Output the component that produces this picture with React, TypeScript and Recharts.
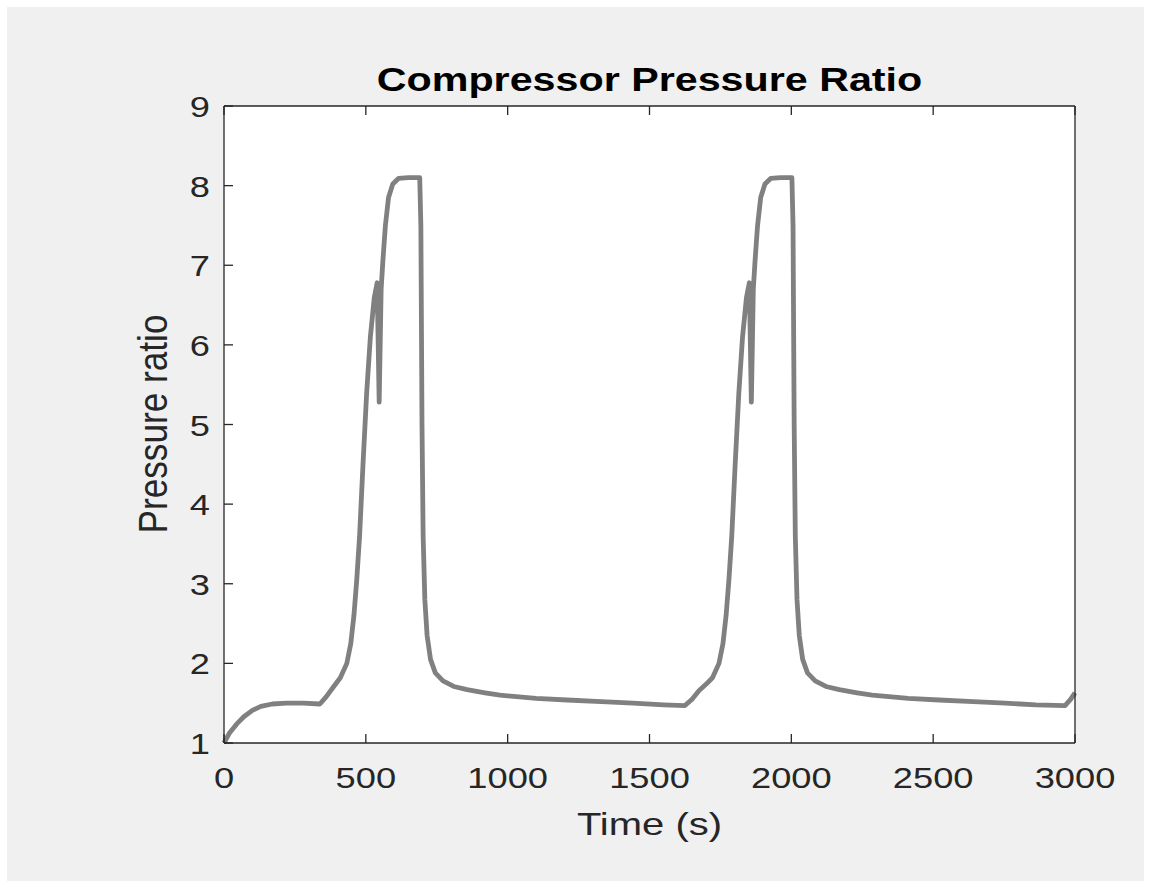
import { LineChart, Line, XAxis, YAxis, CartesianGrid } from 'recharts'

// time (s) and compressor pressure ratio
const times = [
  0, 20, 45, 70, 100, 130, 170, 220, 280, 338,
  360, 385, 410, 433, 447, 458, 468, 478, 490, 503,
  516, 530, 540, 547, 554, 560, 569, 580, 595, 615,
  650, 690, 694, 698, 702, 708, 716, 728, 745, 772,
  810, 857, 920, 973, 1100, 1209, 1330, 1442, 1550, 1625,
  1650, 1675, 1700, 1722, 1745, 1759, 1770, 1780, 1790, 1802,
  1815, 1828, 1842, 1852, 1859, 1866, 1872, 1881, 1892, 1907,
  1927, 1962, 2002, 2006, 2010, 2014, 2020, 2028, 2040, 2057,
  2084, 2122, 2169, 2232, 2285, 2412, 2521, 2642, 2754, 2862,
  2965, 2985, 3000,
]
const ratios = [
  1.0, 1.13, 1.24, 1.33, 1.41, 1.46, 1.49, 1.5, 1.5, 1.49,
  1.58, 1.7, 1.82, 2.0, 2.25, 2.6, 3.05, 3.6, 4.5, 5.4,
  6.1, 6.6, 6.78, 5.28, 6.7, 7.05, 7.5, 7.85, 8.02, 8.09,
  8.1, 8.1, 7.5, 5.0, 3.6, 2.8, 2.35, 2.05, 1.88, 1.78,
  1.71, 1.67, 1.63, 1.6, 1.56, 1.54, 1.52, 1.5, 1.48, 1.47,
  1.55, 1.66, 1.74, 1.82, 2.0, 2.25, 2.6, 3.05, 3.6, 4.5,
  5.4, 6.1, 6.6, 6.78, 5.28, 6.7, 7.05, 7.5, 7.85, 8.02,
  8.09, 8.1, 8.1, 7.5, 5.0, 3.6, 2.8, 2.35, 2.05, 1.88,
  1.78, 1.71, 1.67, 1.63, 1.6, 1.56, 1.54, 1.52, 1.5, 1.48,
  1.47, 1.55, 1.63,
]
const xTicks = [0, 500, 1000, 1500, 2000, 2500, 3000]
const yTicks = [1, 2, 3, 4, 5, 6, 7, 8, 9]

const title = 'Compressor Pressure Ratio'
const xLabel = 'Time (s)'
const yLabel = 'Pressure ratio'

const data = times.map((t, i) => ({ t, v: ratios[i] }))

const FONT = '"Liberation Sans", Arial, Helvetica, sans-serif'
const AX = '#262626'
const TICK = 9

function BottomTick({ x, y, payload }: any) {
  return (
    <g>
      <line x1={x} y1={y} x2={x} y2={y - TICK} stroke={AX} strokeWidth={1.3} />
      <text
        transform={`translate(${x},${y + 45}) scale(1.25,1)`}
        textAnchor="middle"
        fontFamily={FONT}
        fontSize={29}
        fill={AX}
      >
        {payload.value}
      </text>
    </g>
  )
}

function LeftTick({ x, y, payload }: any) {
  return (
    <g>
      <line x1={x} y1={y} x2={x + TICK} y2={y} stroke={AX} strokeWidth={1.3} />
      <text
        transform={`translate(${x - 14},${y + 11}) scale(1.25,1)`}
        textAnchor="end"
        fontFamily={FONT}
        fontSize={29}
        fill={AX}
      >
        {payload.value}
      </text>
    </g>
  )
}

// top / right: tick marks only, like a boxed matlab axes
function TopTick({ x, y }: any) {
  return <line x1={x} y1={y} x2={x} y2={y + TICK} stroke={AX} strokeWidth={1.3} />
}

function RightTick({ x, y }: any) {
  return <line x1={x} y1={y} x2={x - TICK} y2={y} stroke={AX} strokeWidth={1.3} />
}

export default function App() {
  return (
    <div style={{ position: 'absolute', left: 0, top: 0, width: 1151, height: 888, background: '#ffffff' }}>
      <div style={{ position: 'absolute', left: 7, top: 7, width: 1137, height: 874, background: '#f0f0f0' }} />
      <div style={{ position: 'absolute', left: 0, top: 0 }}>
        <LineChart
          width={1151}
          height={888}
          data={data}
          margin={{ top: 96, right: 66, bottom: 85, left: 164 }}
        >
          <CartesianGrid horizontal={false} vertical={false} fill="#ffffff" stroke="none" xAxisId="bottom" yAxisId="left" />
          <XAxis
            xAxisId="bottom"
            dataKey="t"
            type="number"
            domain={[0, 3000]}
            ticks={xTicks}
            interval={0}
            height={60}
            tickSize={0}
            tickMargin={0}
            tickLine={false}
            axisLine={{ stroke: AX, strokeWidth: 1.3 }}
            tick={(p: any) => <BottomTick {...p} />}
          />
          <XAxis
            xAxisId="top"
            orientation="top"
            dataKey="t"
            type="number"
            domain={[0, 3000]}
            ticks={xTicks}
            interval={0}
            height={10}
            tickSize={0}
            tickMargin={0}
            tickLine={false}
            axisLine={{ stroke: AX, strokeWidth: 1.3 }}
            tick={(p: any) => <TopTick {...p} />}
          />
          <YAxis
            yAxisId="left"
            type="number"
            domain={[1, 9]}
            ticks={yTicks}
            interval={0}
            width={60}
            tickSize={0}
            tickMargin={0}
            tickLine={false}
            axisLine={{ stroke: AX, strokeWidth: 1.3 }}
            tick={(p: any) => <LeftTick {...p} />}
          />
          <YAxis
            yAxisId="right"
            orientation="right"
            type="number"
            domain={[1, 9]}
            ticks={yTicks}
            interval={0}
            width={10}
            tickSize={0}
            tickMargin={0}
            tickLine={false}
            axisLine={{ stroke: AX, strokeWidth: 1.3 }}
            tick={(p: any) => <RightTick {...p} />}
          />
          <Line
            xAxisId="bottom"
            yAxisId="left"
            type="linear"
            dataKey="v"
            stroke="#808080"
            strokeWidth={4.8}
            strokeLinejoin="round"
            dot={false}
            activeDot={false}
            isAnimationActive={false}
          />
        </LineChart>
      </div>
      <svg width={1151} height={888} style={{ position: 'absolute', left: 0, top: 0, pointerEvents: 'none' }}>
        <text
          transform="translate(649.5,91) scale(1.25,1)"
          textAnchor="middle"
          fontFamily={FONT}
          fontWeight="bold"
          fontSize={33}
          fill="#000000"
        >
          {title}
        </text>
        <text
          transform="translate(649.5,835) scale(1.25,1)"
          textAnchor="middle"
          fontFamily={FONT}
          fontSize={32}
          fill={AX}
        >
          {xLabel}
        </text>
        <text
          transform="translate(167,424) rotate(-90) scale(1.1,1.25)"
          textAnchor="middle"
          fontFamily={FONT}
          fontSize={32}
          fill={AX}
        >
          {yLabel}
        </text>
      </svg>
    </div>
  )
}
